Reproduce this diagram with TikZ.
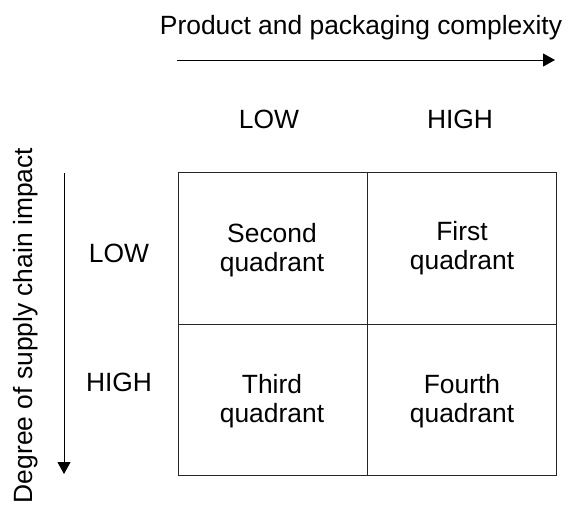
\documentclass[tikz,border=0pt]{standalone}
\usepackage{fontspec}
\setmainfont{Liberation Sans}
\usetikzlibrary{arrows.meta}
\usetikzlibrary{positioning}

\begin{document}
\begin{tikzpicture}[x=1pt, y=-1pt,
		every node/.style={font=\fontsize{26.4}{29.5}\selectfont, inner sep=0pt},
		axis/.style={line width=1pt, -{Triangle[length=12pt, width=13pt]}},
		cell/.style={line width=1pt, draw=black!85},
		quad/.style={align=center}]
		\useasboundingbox (0,0) rectangle (568,507);

		% axis titles
		\node[anchor=base] (xtitle) at (361,34) {Product and packaging complexity};
		\node[anchor=base, rotate=90] (ytitle) at (32,325.5) {Degree of supply chain impact};

		% axis arrows
		\coordinate (xa) at (177,60);
		\coordinate (xb) at (555,60);
		\coordinate (ya) at (64,173);
		\coordinate (yb) at (64,474);
		\draw[axis] (xa) -- (xb);
		\draw[axis] (ya) -- (yb);

		% column and row labels
		\node[anchor=base] (clow) at (269,128) {LOW};
		\node[anchor=base] (chigh) at (460,128) {HIGH};
		\node[anchor=base] (rlow) at (119,262) {LOW};
		\node[anchor=base] (rhigh) at (119,391) {HIGH};

		% 2x2 grid
		\draw[cell] (178,172) rectangle (556,475);
		\draw[cell] (367,172) -- (367,475);
		\draw[cell] (178,324) -- (556,324);

		% quadrants
		\node[quad] (q2) at (272,250) {Second\\quadrant};
		\node[quad] (q1) at (462,248) {First\\quadrant};
		\node[quad] (q3) at (272,401) {Third\\quadrant};
		\node[quad] (q4) at (462,401) {Fourth\\quadrant};
	\end{tikzpicture}
\end{document}
